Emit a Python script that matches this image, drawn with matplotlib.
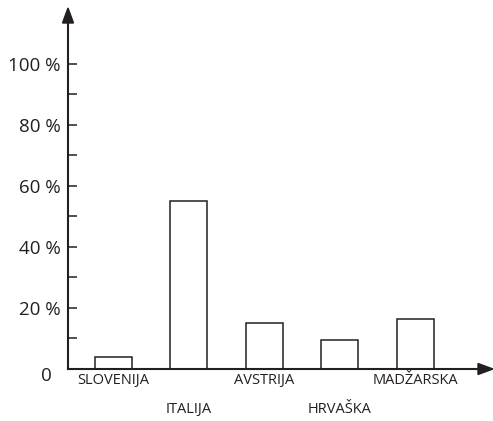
import matplotlib
matplotlib.use("Agg")
import matplotlib.pyplot as plt
from matplotlib.patches import Polygon

plt.rcParams['font.family'] = ['Open Sans', 'DejaVu Sans']

countries = ["SLOVENIJA", "ITALIJA", "AVSTRIJA", "HRVAŠKA", "MADŽARSKA"]
shares = [4, 55, 15, 9.5, 16.5]
major_ticks = [0, 20, 40, 60, 80, 100]
minor_ticks = [10, 30, 50, 70, 90]
tick_labels = ["", "20 %", "40 %", "60 %", "80 %", "100 %"]

ink = "#231f20"
DPI = 100
fig = plt.figure(figsize=(493 / DPI, 421 / DPI), dpi=DPI)
ax = fig.add_axes([68 / 493, 52 / 421, 410 / 493, 346 / 421])

xs = range(len(countries))
ax.bar(xs, shares, width=0.49, facecolor="white", edgecolor=ink, linewidth=1.1, zorder=2)

ax.set_xlim(-0.596, 4.83)
ax.set_ylim(0, 113.4)

for s in ("top", "right"):
    ax.spines[s].set_visible(False)
for s in ("left", "bottom"):
    ax.spines[s].set_color(ink)
    ax.spines[s].set_linewidth(1.5)

ax.set_xticks([])
ax.set_yticks(major_ticks)
ax.set_yticklabels(tick_labels)
ax.set_yticks(minor_ticks, minor=True)
ax.tick_params(axis="y", which="both", direction="in", length=6.5, width=1.1,
               color=ink, labelcolor=ink, labelsize=13.5, pad=5.5)

# zero label sits slightly below the axis corner
ax.annotate("0", xy=(0, 0), xycoords="axes fraction", xytext=(-12, -5),
            textcoords="offset points", ha="right", va="center",
            fontsize=13.5, color=ink)

# staggered category labels
for i, name in enumerate(countries):
    off = -8 if i % 2 == 0 else -29.5
    ax.annotate(name, xy=(i, 0), xycoords=("data", "axes fraction"),
                xytext=(0, off), textcoords="offset points",
                ha="center", va="center", fontsize=10.5, color=ink)

# arrowheads at the ends of both axes
fig.canvas.draw()
inv = ax.transData.inverted()
def px(x, y):
    return ax.transData.transform((x, y))

x0, x1 = ax.get_xlim()
y0, y1 = ax.get_ylim()
bx, by = px(x0, y1)
tri_y = [inv.transform((bx - 5.5, by)), inv.transform((bx + 5.5, by)), inv.transform((bx, by + 15))]
ax.add_patch(Polygon(tri_y, closed=True, facecolor=ink, edgecolor=ink, clip_on=False, zorder=3))
rx, ry = px(x1, y0)
tri_x = [inv.transform((rx, ry + 5.5)), inv.transform((rx, ry - 5.5)), inv.transform((rx + 15, ry))]
ax.add_patch(Polygon(tri_x, closed=True, facecolor=ink, edgecolor=ink, clip_on=False, zorder=3))

fig.savefig("out.png", dpi=DPI)
